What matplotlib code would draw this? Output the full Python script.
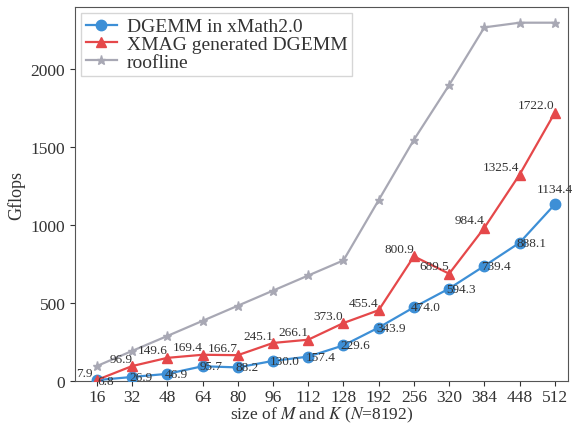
import numpy as np
import matplotlib.pyplot as plt

plt.rcParams['font.family'] = ['Liberation Serif', 'DejaVu Serif']
plt.rcParams['mathtext.fontset'] = 'stix'

# data
sizes = ["16", "32", "48", "64", "80", "96", "112", "128", "192", "256", "320", "384", "448", "512"]
xmath = [6.8, 26.9, 46.9, 95.7, 88.2, 130.0, 157.4, 229.6, 343.9, 474.0, 594.3, 739.4, 888.1, 1134.4]
xmag = [7.9, 96.9, 149.6, 169.4, 166.7, 245.1, 266.1, 373.0, 455.4, 800.9, 689.5, 984.4, 1325.4, 1722.0]
roofline = [97, 194, 290, 387, 484, 581, 678, 775, 1162, 1549, 1900, 2270, 2300, 2300]

c_blue = '#3d8fd6'
c_red = '#e5484a'
c_gray = '#a8a8b4'

fig = plt.figure(figsize=(5.73, 4.27), dpi=100)
ax = fig.add_axes([0.131, 0.105, 0.860, 0.876])
x = np.arange(len(sizes))

ax.plot(x, xmath, color=c_blue, marker='o', markersize=7.5, linewidth=1.6, label='DGEMM in xMath2.0', zorder=3)
ax.plot(x, xmag, color=c_red, marker='^', markersize=7, linewidth=1.6, label='XMAG generated DGEMM', zorder=3)
ax.plot(x, roofline, color=c_gray, marker='*', markersize=6.5, linewidth=1.6, label='roofline', zorder=2)

# value labels
lab_size = 9.5
for i, v in enumerate(xmag):
    if i == 0:
        ax.annotate('%.1f' % v, (x[i], v), xytext=(-3, 1), textcoords='offset points',
                    ha='right', va='bottom', fontsize=lab_size, color='#333333', zorder=5)
    else:
        ax.annotate('%.1f' % v, (x[i], v), xytext=(0, 1), textcoords='offset points',
                    ha='right', va='bottom', fontsize=lab_size, color='#333333', zorder=5)
for i, v in enumerate(xmath):
    if i == len(xmath) - 1:
        ax.annotate('%.1f' % v, (x[i], v), xytext=(0, 7), textcoords='offset points',
                    ha='center', va='bottom', fontsize=lab_size, color='#333333', zorder=5)
    elif i == 0:
        ax.annotate('%.1f' % v, (x[i], v), xytext=(0, -1), textcoords='offset points',
                    ha='left', va='center', fontsize=lab_size, color='#333333', zorder=5)
    else:
        ax.annotate('%.1f' % v, (x[i], v), xytext=(-2, 0), textcoords='offset points',
                    ha='left', va='center', fontsize=lab_size, color='#333333', zorder=5)

ax.set_xticks(x)
ax.set_xticklabels(sizes, fontsize=12.5)
ax.set_xlim(-0.62, 13.37)
ax.set_ylim(0, 2400)
ax.set_yticks([0, 500, 1000, 1500, 2000])
ax.tick_params(axis='y', labelsize=12.5, colors='#333333')
ax.tick_params(axis='x', colors='#333333', pad=2)
for s in ax.spines.values():
    s.set_color('#555555')

ax.set_xlabel('size of $M$ and $K$ ($N$=8192)', fontsize=12.5, color='#333333', labelpad=0)
ax.set_ylabel('Gflops', fontsize=13, color='#333333')

leg = ax.legend(loc='upper left', fontsize=14, fancybox=False, handlelength=1.6,
                borderpad=0.25, labelspacing=0.0, handletextpad=0.5, borderaxespad=0.3)
leg.get_frame().set_edgecolor('#cccccc')
for t in leg.get_texts():
    t.set_color('#333333')

fig.savefig('out.png', dpi=100)
